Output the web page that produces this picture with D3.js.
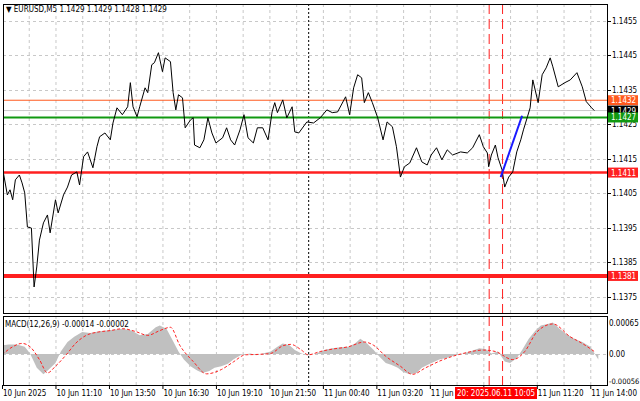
<!DOCTYPE html>
<html>
<head>
<meta charset="utf-8">
<title>EURUSD M5</title>
<script src="https://cdn.jsdelivr.net/npm/d3@7"></script>
<style>
html, body { margin: 0; padding: 0; background: #fff; }
svg { font-family: 'DejaVu Sans Condensed', 'Liberation Sans', Arial, sans-serif; display: block; }
</style>
</head>
<body>
<svg id="chart" width="640" height="401"></svg>
<script>
// close prices, sampled by bar index (M5 bars)
var priceBars = [0,4,6,8,10,13,15,17,19,22,24,26,28,31,34,36,40,42,46,49,52,56,58,61,64,68,71,73,77,81,83,86,90,94,96,98,101,103,107,109,112,114,117,120,122,126,128,130,132,135,137,141,143,144,148,151,154,157,160,165,168,171,174,178,181,184,188,191,195,199,202,204,206,210,213,217,219,222,228,233,238,243,247,251,257,260,263,266,269,271,274,277,281,285,288,292,295,298,301,305,310,314,318,321,325,329,333,337,343,348,352,357,360,363,364,366,369,371,374,376,379,382,385,388,390,393,395,397,401,404,407,410,412,416,421,425,430,434,437,441,443];
var closes = [1.14132,1.14045,1.14060,1.14031,1.14089,1.14103,1.14080,1.14051,1.13952,1.13949,1.13778,1.13836,1.13914,1.13964,1.13987,1.13935,1.14031,1.13993,1.14045,1.14068,1.14103,1.14112,1.14074,1.14156,1.14170,1.14124,1.14185,1.14214,1.14225,1.14205,1.14254,1.14298,1.14278,1.14301,1.14371,1.14301,1.14272,1.14301,1.14356,1.14342,1.14423,1.14429,1.14458,1.14403,1.14443,1.14432,1.14342,1.14292,1.14336,1.14327,1.14240,1.14263,1.14269,1.14190,1.14182,1.14205,1.14269,1.14225,1.14196,1.14211,1.14240,1.14205,1.14190,1.14234,1.14278,1.14211,1.14196,1.14240,1.14240,1.14205,1.14286,1.14313,1.14284,1.14321,1.14269,1.14301,1.14228,1.14225,1.14257,1.14254,1.14269,1.14292,1.14284,1.14286,1.14330,1.14278,1.14356,1.14394,1.14385,1.14313,1.14342,1.14313,1.14269,1.14205,1.14257,1.14243,1.14185,1.14097,1.14127,1.14138,1.14182,1.14141,1.14132,1.14161,1.14182,1.14147,1.14176,1.14161,1.14170,1.14167,1.14182,1.14220,1.14185,1.14167,1.14127,1.14161,1.14190,1.14153,1.14118,1.14068,1.14097,1.14112,1.14170,1.14205,1.14234,1.14272,1.14298,1.14379,1.14313,1.14394,1.14414,1.14443,1.14417,1.14359,1.14371,1.14379,1.14400,1.14359,1.14316,1.14298,1.14290];

// MACD histogram and signal
var histBars = [0,5,11,17,21,26,31,35,40,44,49,54,60,66,72,78,84,90,97,103,109,115,118,123,127,132,136,141,146,150,155,159,164,169,173,179,186,190,195,201,206,210,215,219,224,228,235,241,247,253,259,264,268,273,278,282,287,291,296,300,305,310,314,320,327,333,339,345,351,357,362,366,371,376,380,385,389,394,399,403,408,412,417,422,428,434,440,446];
var histValues = [0.00018,0.0002,0.0002,0.00015,0.00001,-0.00029,-0.00043,-0.00033,-0.00019,0.00005,0.00025,0.00036,0.00046,0.00044,0.00047,0.00049,0.00051,0.00053,0.00049,0.00039,0.00042,0.00056,0.0006,0.00053,0.00032,0.00005,-0.00012,-0.00026,-0.00035,-0.0004,-0.00036,-0.00029,-0.00026,-0.00021,-0.00012,-0.00002,0.00001,-0.00003,0.00001,0.00005,0.00015,0.00022,0.00018,0.00008,0.00001,-0.00003,0.00001,0.00008,0.00012,0.00014,0.00015,0.00022,0.00032,0.00022,0.00008,-0.00005,-0.00019,-0.00023,-0.00029,-0.00038,-0.00043,-0.0004,-0.00029,-0.00021,-0.00012,-0.00008,-0.00003,0.00001,0.00006,0.00012,0.0001,0.00001,0.00005,-0.00016,-0.00019,-0.00009,0.00008,0.00032,0.00049,0.0006,0.00063,0.00066,0.00053,0.00042,0.00032,0.00025,0.00015,-0.00012];
var signalBars = [0,8,15,21,28,34,40,48,55,63,72,81,90,100,109,118,126,133,143,153,164,173,182,192,201,210,216,224,229,238,247,259,271,278,287,298,307,317,330,345,360,369,382,391,400,412,425,434,443];
var signalValues = [-0.00002,0.00015,0.00022,0.00015,-0.00012,-0.0004,-0.00026,-0.00002,0.00022,0.00039,0.00046,0.00049,0.00053,0.00047,0.00039,0.00049,0.00056,0.00018,-0.00016,-0.00042,-0.00033,-0.00017,-0.00002,-0.00001,0.00001,0.00017,0.0002,0.00008,-0.00002,0.00005,0.0001,0.00015,0.00025,0.00018,-0.00005,-0.00026,-0.00043,-0.00029,-0.00012,0.00001,0.00008,0.00005,-0.00012,0.00005,0.00046,0.00063,0.00036,0.00022,0.00005];

var priceTicks = [1.1455,1.1445,1.1435,1.1425,1.1415,1.1405,1.1395,1.1385,1.1375];
var macdTicks = [0.00065, 0, -0.00056];
var timeLabels = ["10 Jun 2025","10 Jun 11:10","10 Jun 13:50","10 Jun 16:30","10 Jun 19:10","10 Jun 21:50","11 Jun 00:40","11 Jun 03:20","11 Jun 06:00","11 Jun 08:40","11 Jun 11:20","11 Jun 14:00"];

// horizontal levels
var levels = [
  {p:1.1432, c:'#ff5a1e', w:1, box:'#ff5a1e'},
  {p:1.1429, c:'#c8c8c8', w:1, box:'#000'},
  {p:1.1427, c:'#119911', w:2, box:'#119911'},
  {p:1.1411, c:'#ff2020', w:2.5, box:'#ff2020'},
  {p:1.1381, c:'#ff2020', w:4, box:'#ff2020'}
];
var blueBars = [373, 389];
var bluePrices = [1.14097, 1.14275];
var daySepBar = 229;
var markBars = [364, 374];

var svg = d3.select('#chart');
var L = 3, R = 607, mainTop = 4, mainBot = 313, macdTop = 316, macdBot = 385;

var x = d3.scaleLinear().domain([0, 451]).range([2, 605]);
var y = d3.scaleLinear().domain([1.1375, 1.1455]).range([296.6, 21]);
var ym = d3.scaleLinear().domain([-0.00056, 0.00065]).range([380.5, 323]);

var defs = svg.append('defs');
defs.append('clipPath').attr('id','cm').append('rect').attr('x',L).attr('y',mainTop).attr('width',R-L).attr('height',mainBot-mainTop);
defs.append('clipPath').attr('id','cd').append('rect').attr('x',L).attr('y',macdTop).attr('width',R-L).attr('height',macdBot-macdTop);

// grid
var grid = svg.append('g').attr('stroke','#c8c8c8').attr('stroke-dasharray','3,3').attr('stroke-width',1);
d3.range(20, 451, 20).forEach(function(b){
  grid.append('line').attr('x1',x(b)+0.5).attr('x2',x(b)+0.5).attr('y1',mainTop).attr('y2',mainBot);
  grid.append('line').attr('x1',x(b)+0.5).attr('x2',x(b)+0.5).attr('y1',macdTop).attr('y2',macdBot);
});
priceTicks.forEach(function(p){
  grid.append('line').attr('x1',L).attr('x2',R).attr('y1',Math.round(y(p))+0.5).attr('y2',Math.round(y(p))+0.5);
});
grid.append('line').attr('x1',L).attr('x2',R).attr('y1',Math.round(ym(0))+0.5).attr('y2',Math.round(ym(0))+0.5);

// vertical markers
[[mainTop,mainBot],[macdTop,macdBot]].forEach(function(r){
  svg.append('line').attr('x1',x(daySepBar)+0.5).attr('x2',x(daySepBar)+0.5).attr('y1',r[0]).attr('y2',r[1])
    .attr('stroke','#000').attr('stroke-dasharray','2,2');
  markBars.forEach(function(b){
    svg.append('line').attr('x1',x(b)+0.5).attr('x2',x(b)+0.5).attr('y1',r[0]).attr('y2',r[1])
      .attr('stroke','#ff2020').attr('stroke-dasharray','10,5');
  });
});

// levels
var lv = svg.append('g').attr('clip-path','url(#cm)');
levels.forEach(function(d){
  lv.append('line').attr('x1',L).attr('x2',R).attr('y1',y(d.p)).attr('y2',y(d.p)).attr('stroke',d.c).attr('stroke-width',d.w);
});

// price line
var pts = priceBars.map(function(b,i){ return [b, closes[i]]; });
svg.append('path').attr('clip-path','url(#cm)').datum(pts)
  .attr('fill','none').attr('stroke','#000').attr('stroke-width',1)
  .attr('d', d3.line().x(function(d){return x(d[0]);}).y(function(d){return y(d[1]);}));

// blue trend line
svg.append('line').attr('x1',x(blueBars[0])).attr('y1',y(bluePrices[0])).attr('x2',x(blueBars[1])).attr('y2',y(bluePrices[1]))
  .attr('stroke','#1a1aff').attr('stroke-width',2);

// MACD
var hp = histBars.map(function(b,i){ return [b, histValues[i]]; });
svg.append('path').attr('clip-path','url(#cd)').datum(hp)
  .attr('fill','#c0c0c0')
  .attr('d', d3.area().x(function(d){return x(d[0]);}).y0(ym(0)).y1(function(d){return ym(d[1]);}));
var sp = signalBars.map(function(b,i){ return [b, signalValues[i]]; });
svg.append('path').attr('clip-path','url(#cd)').datum(sp)
  .attr('fill','none').attr('stroke','#ff2020').attr('stroke-dasharray','3,2')
  .attr('d', d3.line().curve(d3.curveMonotoneX).x(function(d){return x(d[0]);}).y(function(d){return ym(d[1]);}));

// frames
svg.append('rect').attr('x',L+0.5).attr('y',mainTop+0.5).attr('width',R-L).attr('height',mainBot-mainTop).attr('fill','none').attr('stroke','#000');
svg.append('rect').attr('x',L+0.5).attr('y',macdTop+0.5).attr('width',R-L).attr('height',macdBot-macdTop).attr('fill','none').attr('stroke','#000');

// right axis
var ax = svg.append('g').attr('font-size','8px').attr('fill','#000');
priceTicks.forEach(function(p){
  ax.append('line').attr('x1',R).attr('x2',R+4).attr('y1',Math.round(y(p))+0.5).attr('y2',Math.round(y(p))+0.5).attr('stroke','#000');
  ax.append('text').attr('x',612).attr('y',y(p)+3).text(p.toFixed(4));
});
macdTicks.forEach(function(v){
  ax.append('text').attr('x',609).attr('y',ym(v)+3).attr('font-size', v < 0 ? '7.5px' : '8px')
    .text(v === 0 ? '0.00' : v.toFixed(5));
});
levels.forEach(function(d){
  ax.append('rect').attr('x',R+1).attr('y',y(d.p)-5).attr('width',30).attr('height',10).attr('fill',d.box);
  ax.append('text').attr('x',R+4).attr('y',y(d.p)+3).attr('fill','#fff').text(d.p.toFixed(4));
});

// time axis
var tx = svg.append('g').attr('font-size','8px').attr('fill','#000');
timeLabels.forEach(function(t,i){
  var xx = x(i*40);
  tx.append('line').attr('x1',xx+0.5).attr('x2',xx+0.5).attr('y1',macdBot).attr('y2',macdBot+4).attr('stroke','#000');
  if (i !== 9) tx.append('text').attr('x',xx+1).attr('y',396).text(t);
});
tx.append('rect').attr('x',455).attr('y',387).attr('width',82).attr('height',12).attr('fill','#ff0000');
tx.append('text').attr('x',457).attr('y',396).attr('fill','#fff').text('20: 2025.06.11 10:05');

// titles
svg.append('text').attr('x',6).attr('y',12).attr('font-size','8px').text('\u25BC EURUSD,M5  1.1429 1.1429 1.1428 1.1429');
svg.append('text').attr('x',5).attr('y',327).attr('font-size','8px').text('MACD(12,26,9) -0.00014 -0.00002');
</script>
</body>
</html>
